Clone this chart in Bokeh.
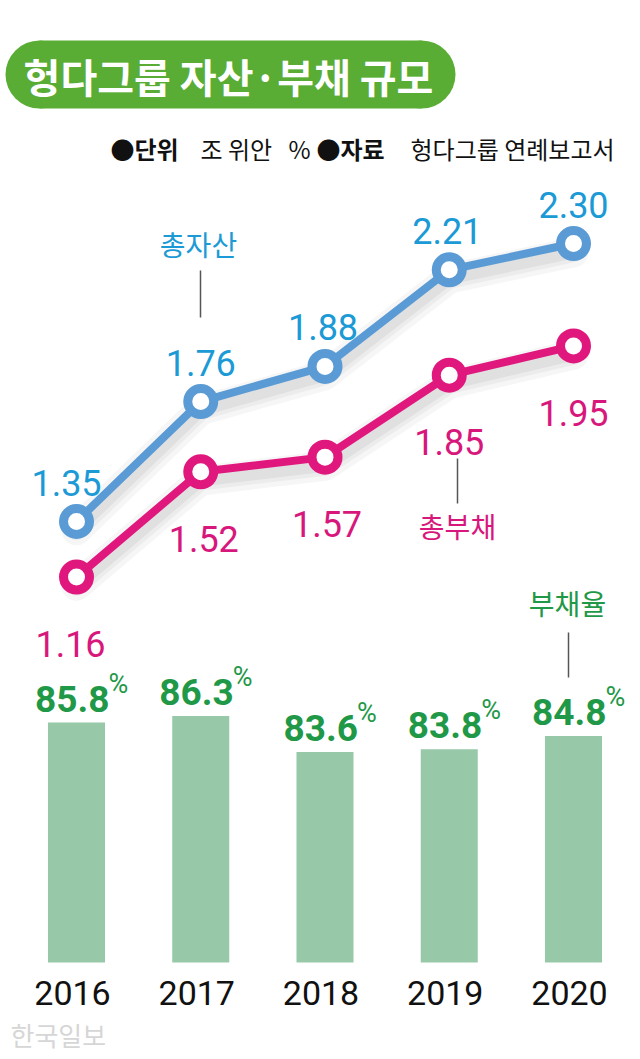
from bokeh.plotting import figure
from bokeh.models import Range1d
from bokeh.core.properties import value
from bokeh.embed import file_html
from bokeh.resources import INLINE

# ---------------- data ----------------
YEARS = ["2016", "2017", "2018", "2019", "2020"]
TOTAL_ASSETS = [1.35, 1.76, 1.88, 2.21, 2.30]        # 총자산 (조 위안)
TOTAL_LIABILITIES = [1.16, 1.52, 1.57, 1.85, 1.95]   # 총부채 (조 위안)
DEBT_RATIO = [85.8, 86.3, 83.6, 83.8, 84.8]          # 부채율 (%)

TITLE = "헝다그룹 자산·부채 규모"
SERIES_NAMES = ["총자산", "총부채", "부채율"]

# ---------------- style ----------------
W, H = 640, 1059
BLUE_LINE = "#5b9bd5"
BLUE_TEXT = "#1b9ad6"
PINK = "#e0187e"
PINK_TEXT = "#d8177c"
GREEN_TEXT = "#1f9847"
BAR_COLOR = "#97c9a8"
TITLE_GREEN = "#5aad34"
KR = value("Noto Sans CJK KR")
NUM = value("Roboto")

idx = list(range(len(YEARS)))

# default ranges = picture pixels (top-left origin, y downwards)
p = figure(width=W, height=H, x_range=Range1d(0, W), y_range=Range1d(H, 0),
           output_backend="svg", toolbar_location=None, min_border=0,
           x_axis_location=None, y_axis_location=None, outline_line_color=None,
           background_fill_color="white", border_fill_color="white")
p.xgrid.visible = False
p.ygrid.visible = False

# data ranges
p.extra_x_ranges = {"yr": Range1d(-76 / 124.25, (W - 76) / 124.25)}
p.extra_y_ranges = {
    "val": Range1d(1.35 - (H - 521) / 292.6, 1.35 + 521 / 292.6),
    "pct": Range1d(67.8 - (H - 962) / 13.33, 67.8 + 962 / 13.33),
}
BAR_BASE = 67.8

# ---------------- title pill ----------------
p.rect(x=230, y=74, width=382, height=68, fill_color=TITLE_GREEN, line_color=None)
p.scatter(x=[39, 421], y=[74, 74], size=68, marker="circle",
          fill_color=TITLE_GREEN, line_color=None)
p.text(x=[228], y=[75], text=[TITLE], text_font=KR, text_font_style="bold",
       text_font_size="40px", text_color="white", text_align="center",
       text_baseline="middle")

# ---------------- subtitle ----------------
sub_parts = [("●단위", 110, "bold"), ("조 위안", 200, "normal"), ("%", 288, "normal"),
             ("●자료", 316, "bold"), ("헝다그룹 연례보고서", 410, "normal")]
for t, x0, st in sub_parts:
    p.text(x=[x0], y=[148], text=[t], text_font=KR, text_font_style=st,
           text_font_size="24px", text_color="#111111", text_align="left",
           text_baseline="middle")

# ---------------- bars ----------------
p.vbar(x=idx, top=DEBT_RATIO, bottom=BAR_BASE, width=0.459, fill_color=BAR_COLOR,
       line_color=None, x_range_name="yr", y_range_name="pct")
p.text(x=idx, y=DEBT_RATIO, text=[f"{v:.1f}" for v in DEBT_RATIO], text_font=NUM,
       text_font_style="bold", text_font_size="37px", text_color=GREEN_TEXT,
       text_align="right", text_baseline="alphabetic", x_offset=33, y_offset=-24,
       x_range_name="yr", y_range_name="pct")
p.text(x=idx, y=DEBT_RATIO, text=["%"] * len(DEBT_RATIO), text_font=NUM,
       text_font_size="27px", text_color=GREEN_TEXT, text_align="left",
       text_baseline="alphabetic", x_offset=32, y_offset=-39,
       x_range_name="yr", y_range_name="pct")

# ---------------- shadows ----------------
for series in (TOTAL_ASSETS, TOTAL_LIABILITIES):
    sh = [v - 0.03 for v in series]
    for w_, a_ in ((30, 0.035), (20, 0.04), (12, 0.05)):
        p.line(x=idx, y=sh, line_width=w_, line_color="#000000", line_alpha=a_,
               line_join="round", line_cap="round", x_range_name="yr", y_range_name="val")

# ---------------- lines ----------------
p.line(x=idx, y=TOTAL_ASSETS, line_width=8, line_color=BLUE_LINE, line_join="round",
       x_range_name="yr", y_range_name="val")
p.line(x=idx, y=TOTAL_LIABILITIES, line_width=8, line_color=PINK, line_join="round",
       x_range_name="yr", y_range_name="val")
p.scatter(x=idx, y=TOTAL_ASSETS, size=26, marker="circle", fill_color="white",
          line_color=BLUE_LINE, line_width=9, x_range_name="yr", y_range_name="val")
p.scatter(x=idx, y=TOTAL_LIABILITIES, size=26, marker="circle", fill_color="white",
          line_color=PINK, line_width=9, x_range_name="yr", y_range_name="val")

asset_nudge = [-10, 0, -2, -2, 0]
p.text(x=idx, y=TOTAL_ASSETS, text=[f"{v:.2f}" for v in TOTAL_ASSETS], text_font=NUM,
       text_font_size="36px", text_color=BLUE_TEXT, text_align="center",
       text_baseline="alphabetic", x_offset=asset_nudge, y_offset=-39,
       x_range_name="yr", y_range_name="val")
p.text(x=idx, y=TOTAL_LIABILITIES, text=[f"{v:.2f}" for v in TOTAL_LIABILITIES],
       text_font=NUM, text_font_size="36px", text_color=PINK_TEXT, text_align="center",
       text_baseline="alphabetic", x_offset=[-6, 3, 2, 0, 0], y_offset=67,
       x_range_name="yr", y_range_name="val")

# ---------------- series annotations ----------------
p.text(x=[198], y=[243], text=[SERIES_NAMES[0]], text_font=KR, text_font_size="28px",
       text_color=BLUE_TEXT, text_align="center", text_baseline="middle")
p.text(x=[457], y=[525], text=[SERIES_NAMES[1]], text_font=KR, text_font_size="28px",
       text_color=PINK_TEXT, text_align="center", text_baseline="middle")
p.text(x=[567], y=[602], text=[SERIES_NAMES[2]], text_font=KR, text_font_size="28px",
       text_color=GREEN_TEXT, text_align="center", text_baseline="middle")
p.segment(x0=[200, 457, 568], y0=[270, 458, 632], x1=[200, 457, 568], y1=[317, 503, 677],
          line_color="#555555", line_width=1.5)

# ---------------- year labels ----------------
p.text(x=idx, y=[992] * len(YEARS), text=YEARS, text_font=NUM, text_font_size="34px",
       text_color="#111111", text_align="center", text_baseline="middle", x_offset=-4,
       x_range_name="yr")

# ---------------- watermark ----------------
p.text(x=[10], y=[1034], text=["한국일보"], text_font=KR, text_font_size="26px",
       text_color="#d6d6d6", text_align="left", text_baseline="middle")

open("out.html", "w").write(file_html(p, INLINE))
